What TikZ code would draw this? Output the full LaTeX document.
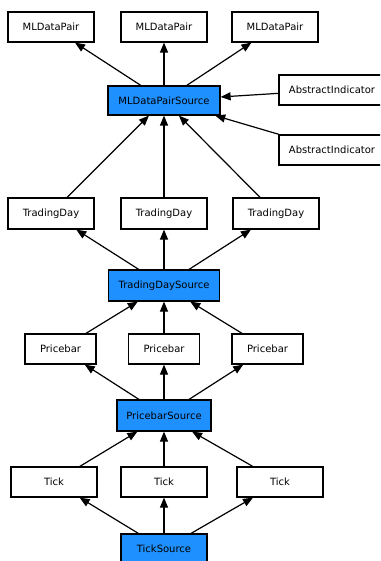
\documentclass[tikz,border=0pt]{standalone}
\usepackage{fontspec}
\setmainfont{DejaVu Sans}
\usetikzlibrary{arrows.meta}
\definecolor{srcblue}{RGB}{30,144,255}

\begin{document}
\begin{tikzpicture}[x=1pt, y=-1pt,
                    every node/.style = {shape=rectangle, align=center,
                    font=\fontsize{10}{12}\selectfont, inner sep=0pt},
                    item/.style = {draw, line width=1.2pt, fill=white,
                    minimum width=86pt, minimum height=30pt},
                    source/.style = {item, fill=srcblue},
                    feed/.style = {draw, line width=1.2pt,
                    -{Triangle[length=10pt,width=8pt]}}]
  \clip (0,0) rectangle (380,561);
  % sources
  \node[source, minimum width=112pt, minimum height=29pt] (mlsrc) at (164,100.5) {MLDataPairSource};
  \node[source, minimum width=111pt, minimum height=31pt] (tdsrc) at (164,285.5) {TradingDaySource};
  \node[source, minimum width=94pt, minimum height=31pt] (pbsrc) at (164,415.5) {PricebarSource};
  \node[source] (tksrc) at (164,549) {TickSource};
  % outputs
  \node[item] (mlA) at (51,27) {MLDataPair};
  \node[item] (mlB) at (164,27) {MLDataPair};
  \node[item] (mlC) at (275,27) {MLDataPair};
  \node[item, minimum width=106pt] (indA) at (332,90) {AbstractIndicator};
  \node[item, minimum width=106pt] (indB) at (332,150) {AbstractIndicator};
  \node[item, minimum height=31pt] (tdA) at (51,213.5) {TradingDay};
  \node[item, minimum height=31pt] (tdB) at (164,213.5) {TradingDay};
  \node[item, minimum height=31pt] (tdC) at (276,213.5) {TradingDay};
  \node[item, minimum width=71pt] (pbA) at (60.5,349) {Pricebar};
  \node[item, minimum width=71pt] (pbB) at (164,349) {Pricebar};
  \node[item, minimum width=71pt] (pbC) at (267.5,349) {Pricebar};
  \node[item] (tkA) at (54,482) {Tick};
  \node[item] (tkB) at (164,482) {Tick};
  \node[item] (tkC) at (280,482) {Tick};
  % links
  \foreach \t in {tkA,tkB,tkC} {
    \draw[feed] (tksrc) -- (\t);
    \draw[feed] (\t) -- (pbsrc);
  }
  \foreach \t in {pbA,pbB,pbC} {
    \draw[feed] (pbsrc) -- (\t);
    \draw[feed] (\t) -- (tdsrc);
  }
  \foreach \t in {tdA,tdB,tdC} {
    \draw[feed] (tdsrc) -- (\t);
    \draw[feed] (\t) -- (mlsrc);
  }
  \foreach \t in {mlA,mlB,mlC}
    \draw[feed] (mlsrc) -- (\t);
  \draw[feed] (indA) -- (mlsrc);
  \draw[feed] (indB) -- (mlsrc);
\end{tikzpicture}
\end{document}
